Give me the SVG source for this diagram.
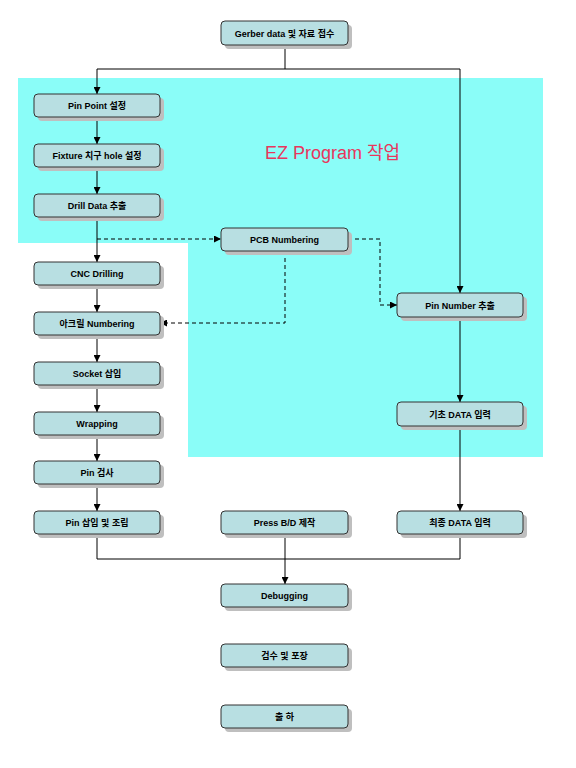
<svg xmlns="http://www.w3.org/2000/svg" width="576" height="768" viewBox="0 0 576 768">
<defs>
<style>
.bg{fill:#ffffff}
.zone{fill:#8afdf8}
.sh{fill:#bfbfbf}
.box{fill:#b8dfe2;stroke:#333333;stroke-width:1}
.t{font-family:"Liberation Sans","Noto Sans CJK KR",sans-serif;font-size:9px;font-weight:bold;fill:#000;text-anchor:middle}
.ln{fill:none;stroke:#000;stroke-width:1}
.dl{fill:none;stroke:#000;stroke-width:1;stroke-dasharray:4,3}
.ez{font-family:"Liberation Sans","Noto Sans CJK KR",sans-serif;font-size:18px;fill:#e8365d}
</style>
<marker id="a" viewBox="0 0 8 8" refX="8" refY="4" markerWidth="7" markerHeight="7" orient="auto" markerUnits="userSpaceOnUse">
<path d="M0,0 L8,4 L0,8 Z" fill="#000"/>
</marker>
</defs>
<rect class="bg" x="0" y="0" width="576" height="768"/>
<path class="zone" d="M18,78 H543 V457 H188 V243 H18 Z"/>
<text class="ez" x="265" y="159">EZ Program 작업</text>
<g id="connectors">
<path class="ln" d="M285,45 V69 H97 V94" marker-end="url(#a)"/>
<path class="ln" d="M285,69 H460 V293" marker-end="url(#a)"/>
<path class="ln" d="M97,117 V144" marker-end="url(#a)"/>
<path class="ln" d="M97,167 V194" marker-end="url(#a)"/>
<path class="ln" d="M97,217 V262" marker-end="url(#a)"/>
<path class="ln" d="M97,285 V312" marker-end="url(#a)"/>
<path class="ln" d="M97,335 V362" marker-end="url(#a)"/>
<path class="ln" d="M97,385 V412" marker-end="url(#a)"/>
<path class="ln" d="M97,435 V461" marker-end="url(#a)"/>
<path class="ln" d="M97,484 V511" marker-end="url(#a)"/>
<path class="dl" d="M97,239 H221" marker-end="url(#a)"/>
<path class="dl" d="M348,239 H380 V305 H397" marker-end="url(#a)"/>
<path class="dl" d="M285,251 V323 H160" marker-end="url(#a)"/>
<path class="ln" d="M460,317 V402" marker-end="url(#a)"/>
<path class="ln" d="M460,426 V511" marker-end="url(#a)"/>
<path class="ln" d="M97,534 V559 H460 V534"/>
<path class="ln" d="M285,534 V584" marker-end="url(#a)"/>
</g>
<g id="n-gerber"><rect class="sh" x="225" y="25" width="127" height="24" rx="4"/><rect class="box" x="221" y="21" width="127" height="24" rx="4"/><text class="t" x="284.5" y="36.5">Gerber data 및 자료 접수</text></g>
<g id="n-pinpoint"><rect class="sh" x="38" y="98" width="126" height="23" rx="4"/><rect class="box" x="34" y="94" width="126" height="23" rx="4"/><text class="t" x="97" y="109">Pin Point 설정</text></g>
<g id="n-fixture"><rect class="sh" x="38" y="148" width="126" height="23" rx="4"/><rect class="box" x="34" y="144" width="126" height="23" rx="4"/><text class="t" x="97" y="159">Fixture 치구 hole 설정</text></g>
<g id="n-drill"><rect class="sh" x="38" y="198" width="126" height="23" rx="4"/><rect class="box" x="34" y="194" width="126" height="23" rx="4"/><text class="t" x="97" y="209">Drill Data 추출</text></g>
<g id="n-pcb"><rect class="sh" x="225" y="232" width="127" height="23" rx="4"/><rect class="box" x="221" y="228" width="127" height="23" rx="4"/><text class="t" x="284.5" y="243">PCB Numbering</text></g>
<g id="n-cnc"><rect class="sh" x="38" y="266" width="126" height="23" rx="4"/><rect class="box" x="34" y="262" width="126" height="23" rx="4"/><text class="t" x="97" y="277">CNC Drilling</text></g>
<g id="n-acryl"><rect class="sh" x="38" y="316" width="126" height="23" rx="4"/><rect class="box" x="34" y="312" width="126" height="23" rx="4"/><text class="t" x="97" y="327">아크릴 Numbering</text></g>
<g id="n-socket"><rect class="sh" x="38" y="366" width="126" height="23" rx="4"/><rect class="box" x="34" y="362" width="126" height="23" rx="4"/><text class="t" x="97" y="377">Socket 삽입</text></g>
<g id="n-wrapping"><rect class="sh" x="38" y="416" width="126" height="23" rx="4"/><rect class="box" x="34" y="412" width="126" height="23" rx="4"/><text class="t" x="97" y="427">Wrapping</text></g>
<g id="n-pincheck"><rect class="sh" x="38" y="465" width="126" height="23" rx="4"/><rect class="box" x="34" y="461" width="126" height="23" rx="4"/><text class="t" x="97" y="476">Pin 검사</text></g>
<g id="n-pinins"><rect class="sh" x="38" y="515" width="126" height="23" rx="4"/><rect class="box" x="34" y="511" width="126" height="23" rx="4"/><text class="t" x="97" y="526">Pin 삽입 및 조립</text></g>
<g id="n-pinnum"><rect class="sh" x="401" y="297" width="126" height="24" rx="4"/><rect class="box" x="397" y="293" width="126" height="24" rx="4"/><text class="t" x="460" y="308.5">Pin Number 추출</text></g>
<g id="n-basic"><rect class="sh" x="401" y="406" width="126" height="24" rx="4"/><rect class="box" x="397" y="402" width="126" height="24" rx="4"/><text class="t" x="460" y="417.5">기초 DATA 입력</text></g>
<g id="n-final"><rect class="sh" x="401" y="515" width="126" height="23" rx="4"/><rect class="box" x="397" y="511" width="126" height="23" rx="4"/><text class="t" x="460" y="526">최종 DATA 입력</text></g>
<g id="n-press"><rect class="sh" x="225" y="515" width="127" height="23" rx="4"/><rect class="box" x="221" y="511" width="127" height="23" rx="4"/><text class="t" x="284.5" y="526">Press B/D 제작</text></g>
<g id="n-debug"><rect class="sh" x="225" y="588" width="127" height="23" rx="4"/><rect class="box" x="221" y="584" width="127" height="23" rx="4"/><text class="t" x="284.5" y="599">Debugging</text></g>
<g id="n-inspect"><rect class="sh" x="225" y="648" width="127" height="23" rx="4"/><rect class="box" x="221" y="644" width="127" height="23" rx="4"/><text class="t" x="284.5" y="659">검수 및 포장</text></g>
<g id="n-ship"><rect class="sh" x="225" y="709" width="127" height="23" rx="4"/><rect class="box" x="221" y="705" width="127" height="23" rx="4"/><text class="t" x="284.5" y="720">출 하</text></g>
</svg>
